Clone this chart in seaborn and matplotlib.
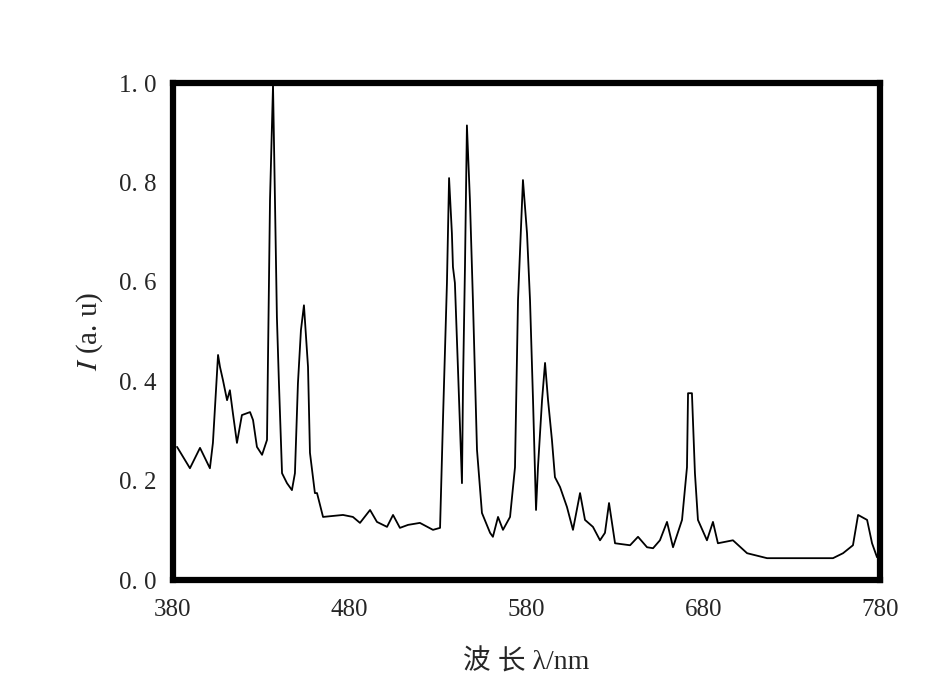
import matplotlib
matplotlib.use("Agg")
import matplotlib.pyplot as plt
import numpy as np
import pandas as pd
import seaborn as sns

# spectrum (wavelength in nm, relative intensity)
wavelength = [382.3, 389.6, 395.3, 400.9, 402.6, 405.5, 406.6, 408.3, 410.6, 412.2,
              413.9, 416.2, 419.0, 423.6, 425.3, 427.5, 430.4, 433.2, 433.7, 434.9,
              436.6, 437.7, 438.8, 439.9, 441.7, 444.5, 447.3, 449.0, 450.7, 452.4,
              454.1, 456.4, 457.5, 460.3, 461.5, 464.9, 470.5, 476.2, 481.8, 485.8,
              491.5, 495.4, 501.1, 504.5, 508.4, 513.0, 519.7, 527.1, 531.1, 532.8,
              535.0, 536.2, 537.8, 538.4, 539.5, 541.2, 543.5, 544.1, 545.2, 546.3,
              548.0, 549.7, 552.0, 554.8, 559.4, 561.0, 563.9, 566.7, 570.7, 573.5,
              575.2, 578.0, 580.3, 582.0, 583.7, 585.4, 586.5, 588.8, 590.5, 592.2,
              594.4, 596.1, 599.0, 602.9, 606.3, 610.3, 613.1, 617.6, 621.6, 624.4,
              626.7, 630.1, 638.6, 643.1, 648.2, 651.6, 655.5, 659.5, 662.9, 668.0,
              670.8, 671.4, 673.6, 675.3, 677.0, 682.1, 685.5, 688.3, 696.8, 704.8,
              716.1, 734.7, 753.4, 759.1, 764.7, 767.6, 772.7, 775.5, 778.3]
intensity = [0.268, 0.225, 0.266, 0.225, 0.276, 0.453, 0.429, 0.402, 0.362, 0.382,
             0.336, 0.276, 0.332, 0.338, 0.322, 0.268, 0.252, 0.282, 0.429, 0.765,
             0.996, 0.765, 0.529, 0.402, 0.215, 0.195, 0.181, 0.215, 0.396, 0.503,
             0.553, 0.429, 0.256, 0.175, 0.175, 0.127, 0.129, 0.131, 0.127, 0.115,
             0.141, 0.117, 0.107, 0.131, 0.105, 0.111, 0.115, 0.101, 0.105, 0.328,
             0.598, 0.809, 0.698, 0.630, 0.598, 0.429, 0.195, 0.396, 0.630, 0.915,
             0.765, 0.563, 0.262, 0.135, 0.095, 0.087, 0.127, 0.101, 0.127, 0.227,
             0.563, 0.805, 0.698, 0.563, 0.362, 0.141, 0.227, 0.362, 0.437, 0.362,
             0.282, 0.207, 0.187, 0.147, 0.101, 0.175, 0.121, 0.107, 0.080, 0.095,
             0.155, 0.074, 0.070, 0.087, 0.066, 0.064, 0.080, 0.117, 0.066, 0.121,
             0.227, 0.376, 0.376, 0.215, 0.121, 0.080, 0.117, 0.074, 0.080, 0.054,
             0.044, 0.044, 0.044, 0.054, 0.070, 0.131, 0.121, 0.074, 0.046]

x_ticks = [380, 480, 580, 680, 780]
y_ticks = [0.0, 0.2, 0.4, 0.6, 0.8, 1.0]
y_ticklabels = ["0. 0", "0. 2", "0. 4", "0. 6", "0. 8", "1. 0"]

sns.set_style("white")
plt.rcParams['font.family'] = ['Liberation Serif', 'Noto Sans CJK SC', 'DejaVu Sans']
plt.rcParams['mathtext.fontset'] = 'stix'

df = pd.DataFrame({"wl": wavelength, "I": intensity})

fig = plt.figure(figsize=(9.53, 6.92), dpi=100)
ax = fig.add_axes([0.1815, 0.1618, 0.7419, 0.718])

sns.lineplot(data=df, x="wl", y="I", color="black", linewidth=1.3, ax=ax)

ax.set_xlim(380, 780)
ax.set_ylim(0, 1.0)
ax.set_xticks(x_ticks)
ax.set_yticks(y_ticks)
ax.set_yticklabels(y_ticklabels)
ax.tick_params(length=0, labelsize=18)
ax.tick_params(axis='x', pad=14)
ax.tick_params(axis='y', pad=12)

for sp in ax.spines.values():
    sp.set_visible(True)
    sp.set_color("black")
    sp.set_linewidth(4.5)

# plain text so the CJK fallback works (mathtext breaks it)
ax.set_xlabel("波 长 λ/nm", fontsize=20, labelpad=20)
ax.set_ylabel("$I$ (a. u)", fontsize=21, labelpad=10)

fig.savefig("out.png", dpi=100, facecolor="white")
